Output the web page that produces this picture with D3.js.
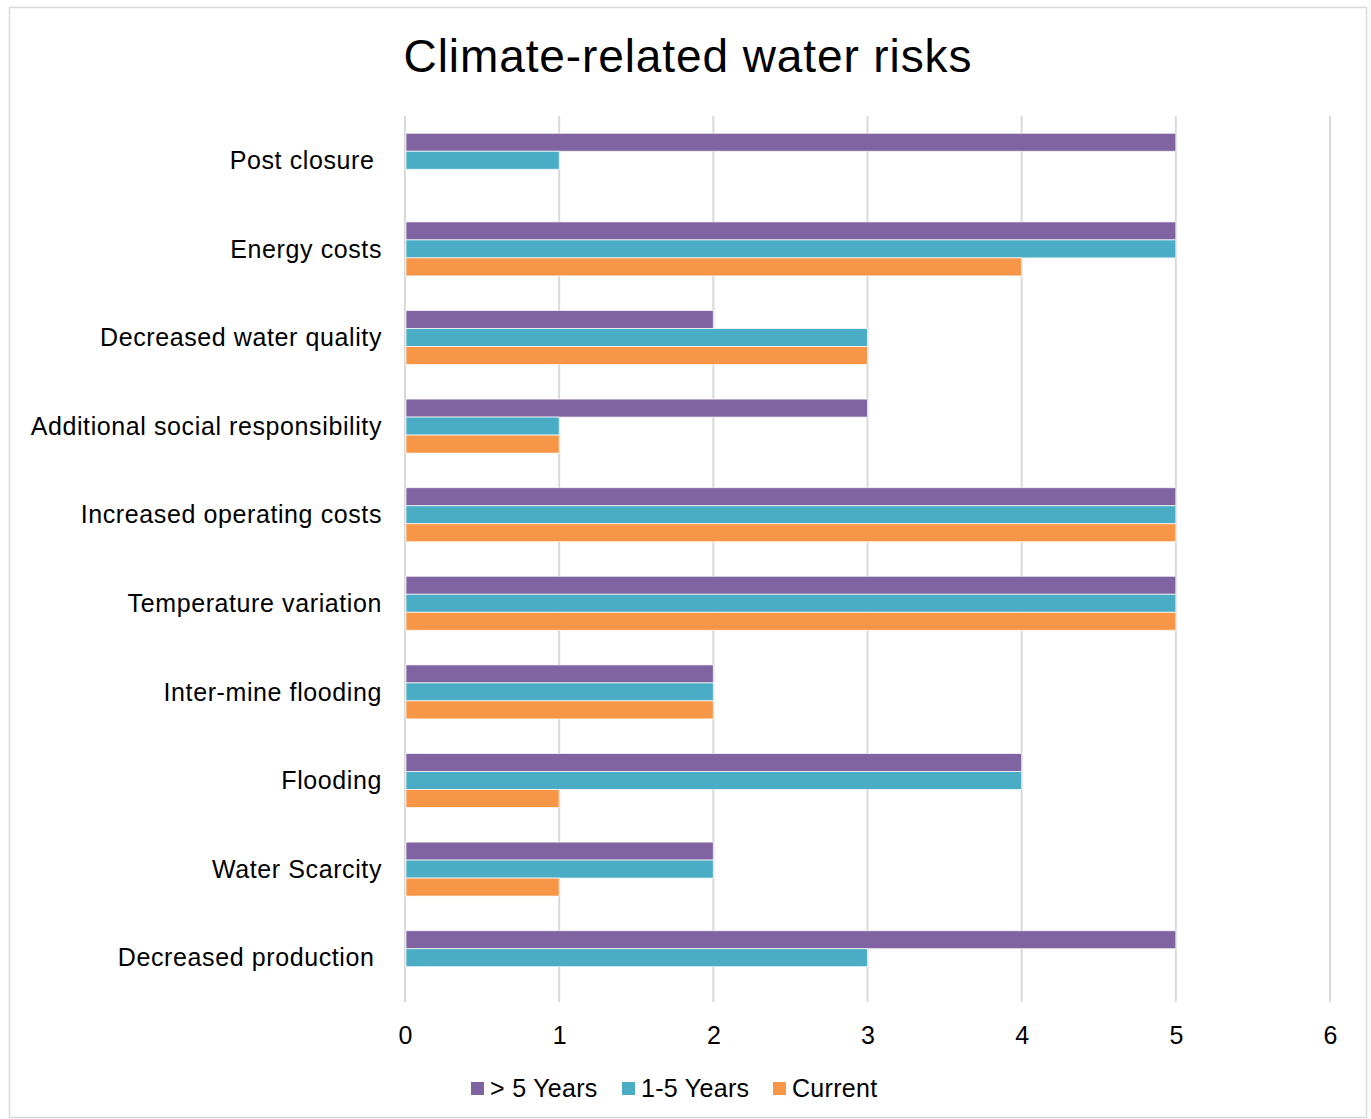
<!DOCTYPE html>
<html>
<head>
<meta charset="utf-8">
<script src="https://cdn.jsdelivr.net/npm/d3@7"></script>
<style>
  body { margin: 0; background: #fff; }
  text { font-family: Arial, "Liberation Sans", sans-serif; fill: #000; }
</style>
</head>
<body>
<div class="graph"></div>
<script>
const width = 1371;
const height = 1119;
const margin = {top: 116, right: 41, bottom: 117, left: 405};

const categories = ['Post closure ', 'Energy costs', 'Decreased water quality',
  'Additional social responsibility', 'Increased operating costs',
  'Temperature variation', 'Inter-mine flooding', 'Flooding',
  'Water Scarcity', 'Decreased production '];
const series = ['> 5 Years', '1-5 Years', 'Current'];
const colors = ['#8064A2', '#4BACC6', '#F79646'];
const over5 = [5, 5, 2, 3, 5, 5, 2, 4, 2, 5];
const oneToFive = [1, 5, 3, 1, 5, 5, 2, 4, 2, 3];
const current = [0, 4, 3, 1, 5, 5, 2, 1, 1, 0];
const xTicks = [0, 1, 2, 3, 4, 5, 6];

const values = [over5, oneToFive, current];
const rows = [];
categories.forEach((c, i) => {
  series.forEach((s, j) => rows.push({cat: c, ser: s, val: values[j][i]}));
});

const svg = d3.select('.graph').append('svg')
  .attr('width', width)
  .attr('height', height);

// chart frame
svg.append('rect')
  .attr('x', 9.5).attr('y', 7.5)
  .attr('width', 1357).attr('height', 1110)
  .attr('fill', '#fff')
  .attr('stroke', '#d9d9d9')
  .attr('stroke-width', 1.5);

svg.append('text')
  .attr('x', 688)
  .attr('y', 72)
  .attr('text-anchor', 'middle')
  .style('font-size', '46px')
  .style('letter-spacing', '0.9px')
  .text('Climate-related water risks');

const innerWidth = width - margin.left - margin.right;
const innerHeight = height - margin.top - margin.bottom;

const chart = svg.append('g')
  .attr('transform', `translate(${margin.left}, ${margin.top})`);

const x = d3.scaleLinear().domain([0, 6]).range([0, innerWidth]);
const y = d3.scaleBand().domain(categories).range([0, innerHeight]);
const ySub = d3.scaleBand().domain(series).range([0, y.bandwidth()]).paddingOuter(0.96);

// gridlines
chart.append('g')
  .selectAll('line')
  .data(xTicks)
  .join('line')
  .attr('x1', d => x(d)).attr('x2', d => x(d))
  .attr('y1', 0).attr('y2', innerHeight)
  .attr('stroke', '#d9d9d9')
  .attr('stroke-width', 2);

// bars
chart.append('g')
  .selectAll('rect')
  .data(rows.filter(d => d.val > 0))
  .join('rect')
  .attr('x', x(0) + 1)
  .attr('y', d => y(d.cat) + ySub(d.ser))
  .attr('width', d => x(d.val) - x(0) - 1)
  .attr('height', ySub.bandwidth())
  .attr('fill', d => colors[series.indexOf(d.ser)])
  .attr('stroke', '#fff')
  .attr('stroke-opacity', 0.7)
  .attr('stroke-width', 1);

// category labels
chart.append('g')
  .selectAll('text')
  .data(categories)
  .join('text')
  .attr('x', -23)
  .attr('y', d => y(d) + y.bandwidth() / 2)
  .attr('dy', '0.35em')
  .attr('text-anchor', 'end')
  .style('font-size', '25px')
  .style('letter-spacing', '0.6px')
  .style('white-space', 'pre')
  .text(d => d);

// x axis labels
const xAxis = d3.axisBottom(x)
  .tickValues(xTicks)
  .tickFormat(d3.format('d'))
  .tickSize(0)
  .tickPadding(24);

const ax = chart.append('g')
  .attr('transform', `translate(0, ${innerHeight})`)
  .call(xAxis);
ax.select('.domain').remove();
ax.selectAll('text')
  .style('font-size', '25px')
  .attr('fill', '#000')
  .style('font-family', 'Arial, "Liberation Sans", sans-serif');

// legend
const legendX = [471, 622, 773];
const legend = svg.append('g');
series.forEach((s, i) => {
  legend.append('rect')
    .attr('x', legendX[i]).attr('y', 1082)
    .attr('width', 13).attr('height', 13)
    .attr('fill', colors[i]);
  legend.append('text')
    .attr('x', legendX[i] + 19)
    .attr('y', 1097)
    .style('font-size', '25px')
    .style('letter-spacing', '0.3px')
    .text(s);
});
</script>
</body>
</html>
